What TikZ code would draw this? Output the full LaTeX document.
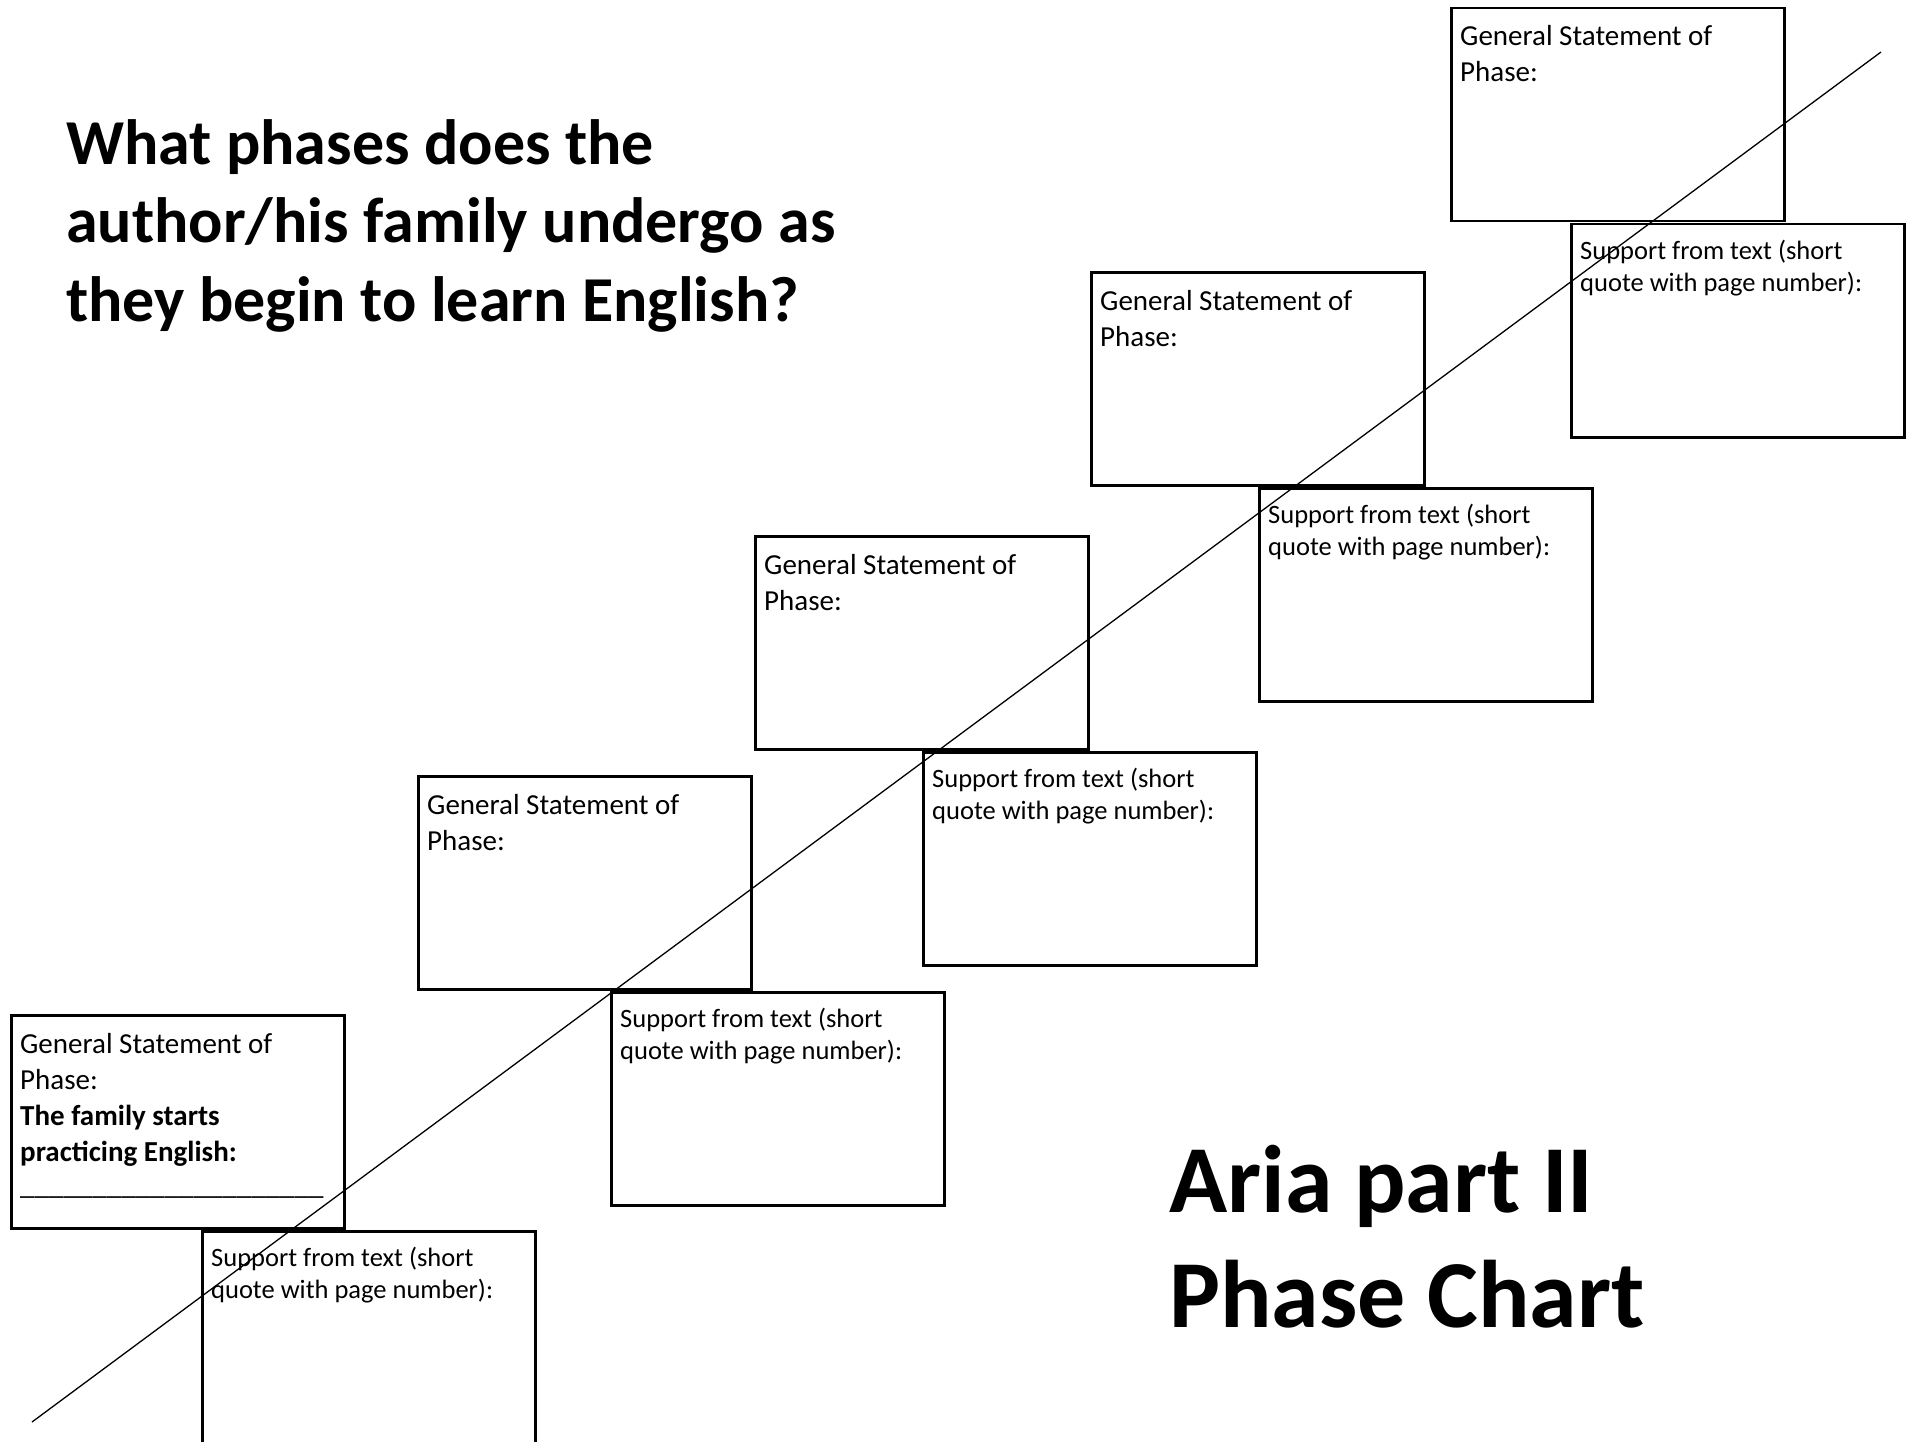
\documentclass[tikz,border=0pt]{standalone}
\usepackage{fontspec}
\setmainfont{Carlito}
\tikzset{
  pbox/.style={draw, line width=2.5pt, minimum width=333pt, minimum height=213pt, inner sep=0pt, anchor=north west},
  gtxt/.style={anchor=base west, inner sep=0pt, font=\fontsize{29}{35}\selectfont},
  stxt/.style={anchor=base west, inner sep=0pt, font=\fontsize{26.5}{32}\selectfont},
  gbold/.style={anchor=base west, inner sep=0pt, font=\fontsize{29}{35}\selectfont\bfseries},
  ttl/.style={anchor=base west, inner sep=0pt, font=\fontsize{64}{78}\selectfont\bfseries},
  big/.style={anchor=base west, inner sep=0pt, font=\fontsize{96}{117}\selectfont\bfseries},
  diag/.style={line width=1.3pt}
}
\begin{document}
\begin{tikzpicture}[x=1pt,y=-1pt]
\useasboundingbox (0,0) rectangle (1914,1442);
% title
\node[ttl] (t1) at (66,165) {What phases does the};
\node[ttl] (t2) at (66,243) {author/his family undergo as};
\node[ttl] (t3) at (66,321) {they begin to learn English?};
\node[big] (a1) at (1169,1212) {Aria part II};
\node[big] (a2) at (1169,1327) {Phase Chart};
% boxes
\node[pbox] (g1) at (10,1014) {};
\node[pbox] (s1) at (201,1230) {};
\node[pbox] (g2) at (417,775) {};
\node[pbox] (s2) at (610,991) {};
\node[pbox] (g3) at (754,535) {};
\node[pbox] (s3) at (922,751) {};
\node[pbox] (g4) at (1090,271) {};
\node[pbox] (s4) at (1258,487) {};
\node[pbox] (g5) at (1450,7) {};
\node[pbox] (s5) at (1570,223) {};
% general texts
\foreach \b in {g1,g2,g3,g4,g5}{
  \node[gtxt] (\b l1) at ([shift={(10pt,-39pt)}]\b.north west) {General Statement of};
  \node[gtxt] (\b l2) at ([shift={(10pt,-75pt)}]\b.north west) {Phase:};
}
\node[gbold] (g1l3) at ([shift={(10pt,-111pt)}]g1.north west) {The family starts};
\node[gbold] (g1l4) at ([shift={(10pt,-147pt)}]g1.north west) {practicing English:};
\node[gtxt] (g1l5) at ([shift={(10pt,-180pt)}]g1.north west) {\_\_\_\_\_\_\_\_\_\_\_\_\_\_\_\_\_\_\_\_\_};
% support texts
\foreach \b in {s1,s2,s3,s4,s5}{
  \node[stxt] (\b l1) at ([shift={(10pt,-36pt)}]\b.north west) {Support from text (short};
  \node[stxt] (\b l2) at ([shift={(10pt,-68pt)}]\b.north west) {quote with page number):};
}
% diagonal
\coordinate (d0) at (32,1422);
\coordinate (d1) at (1881,52);
\draw[diag] (d0) -- (d1);
\end{tikzpicture}
\end{document}
